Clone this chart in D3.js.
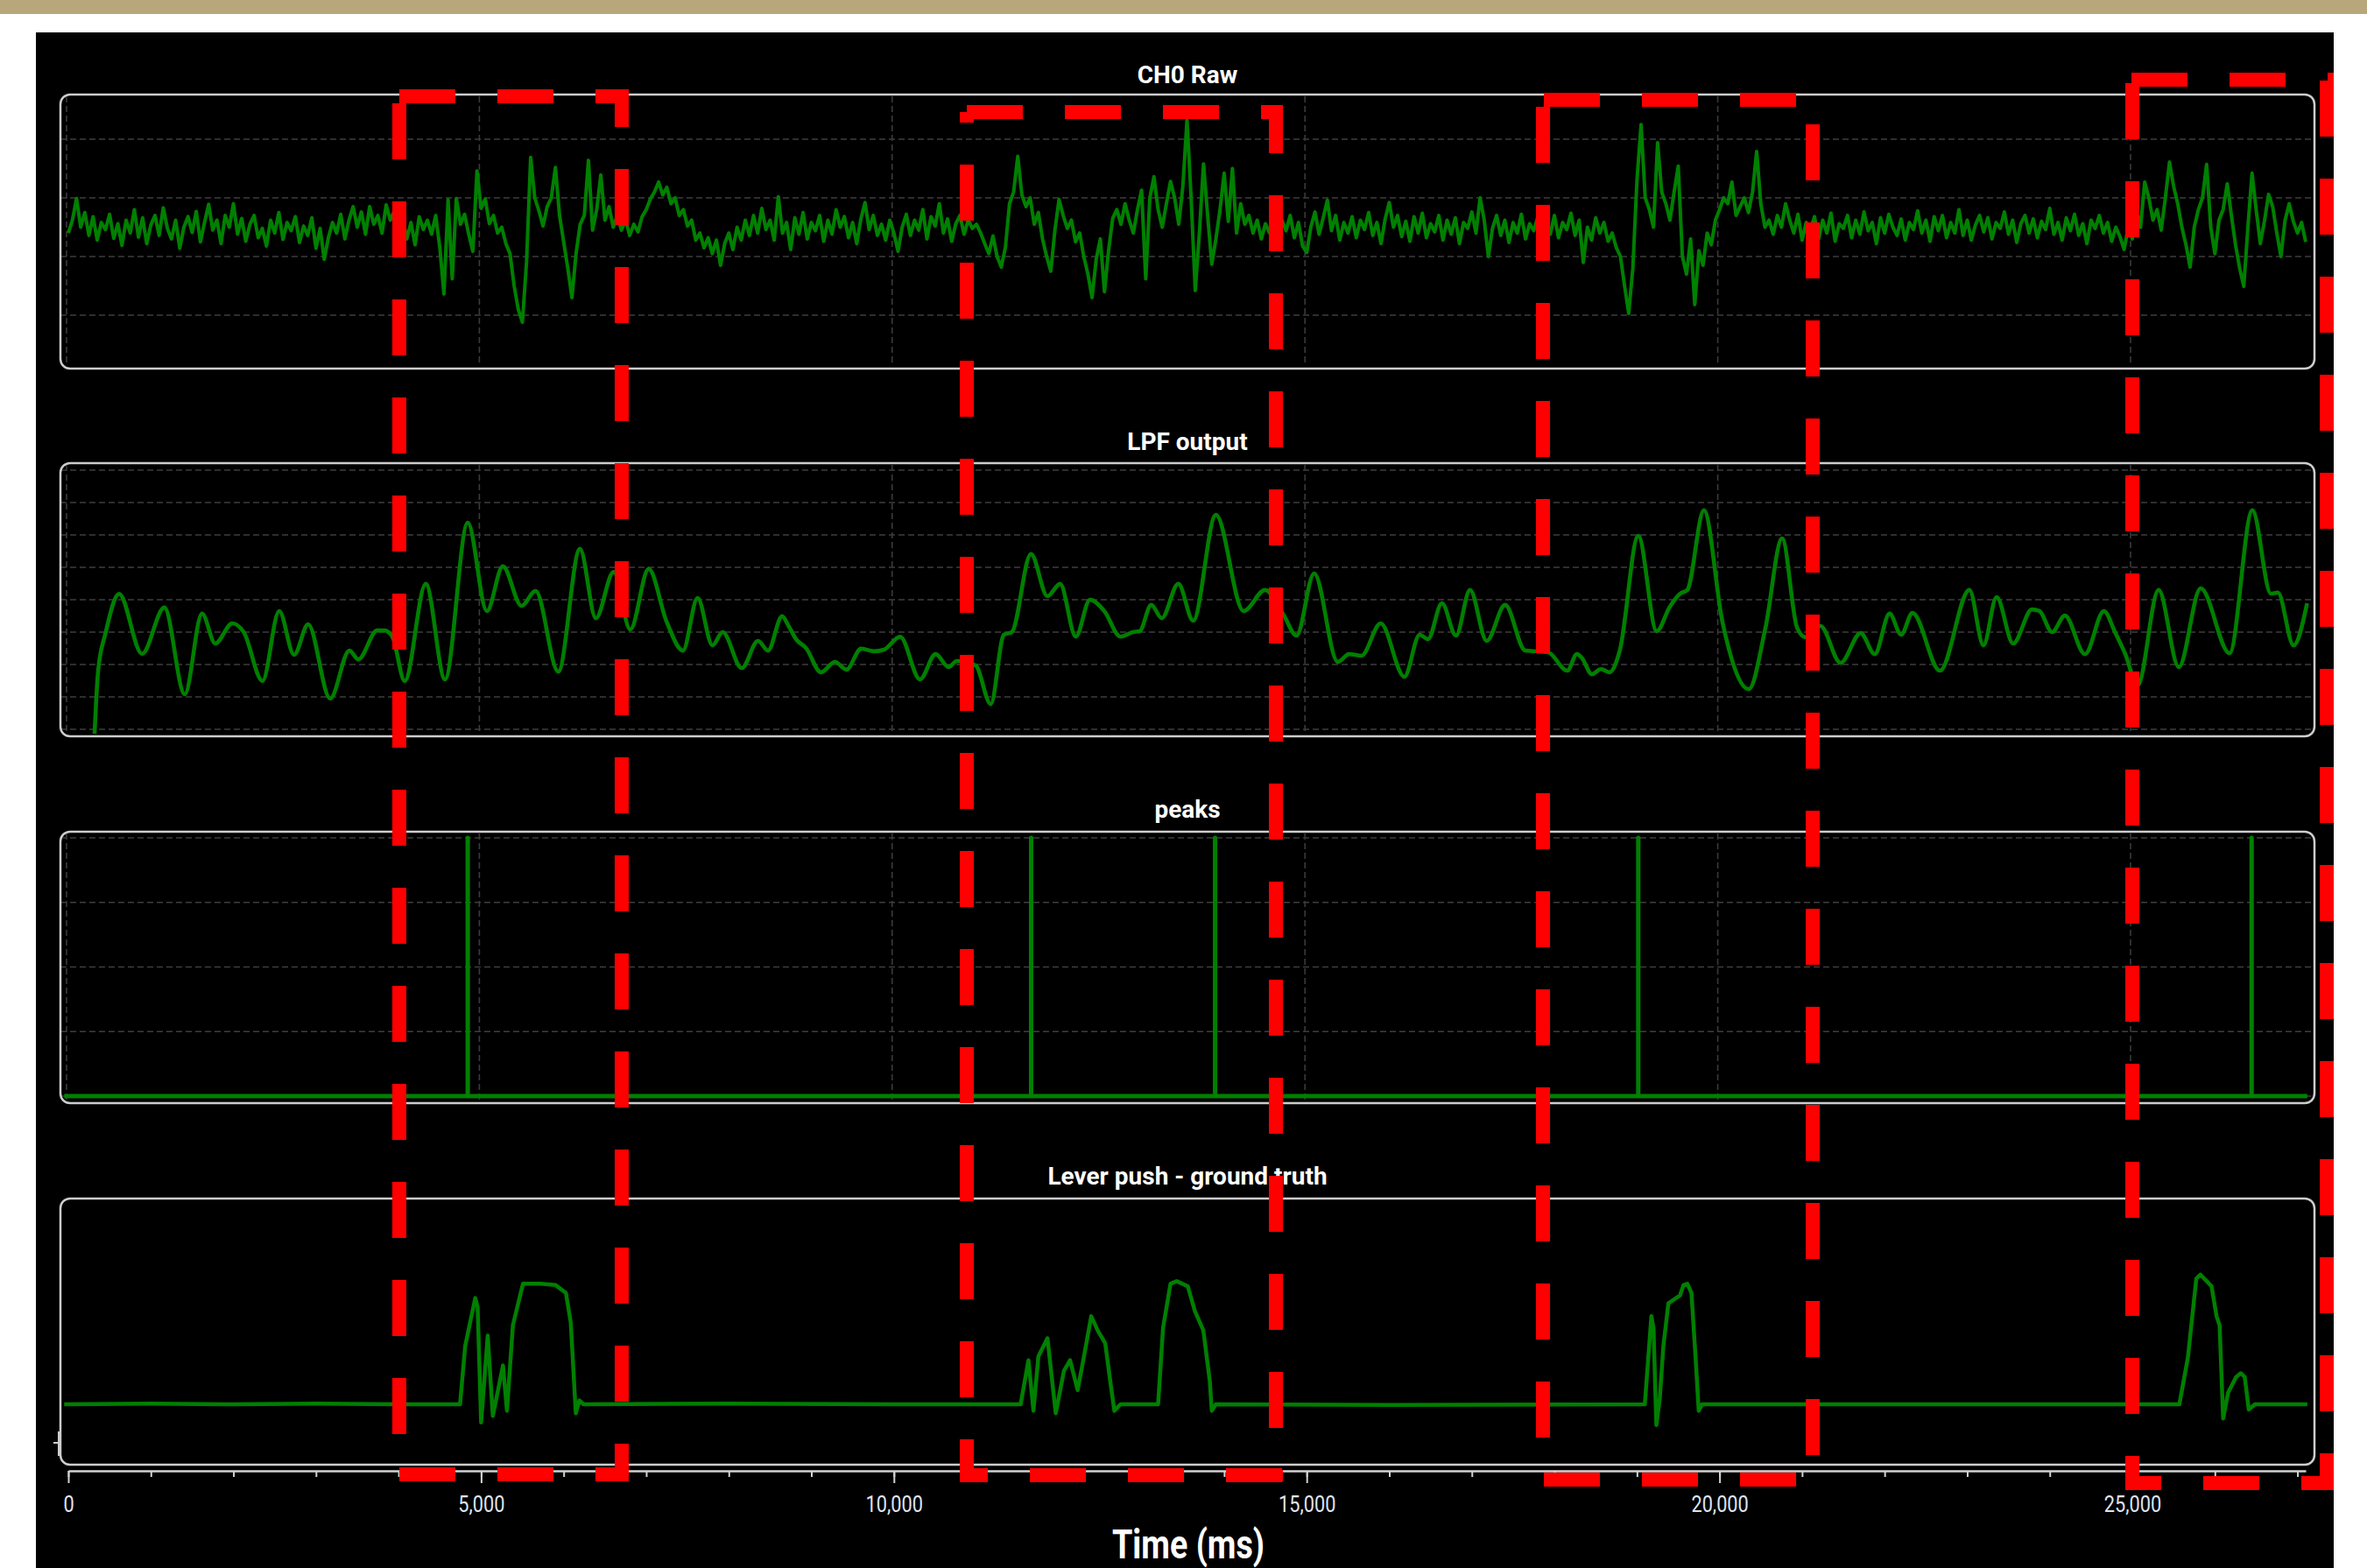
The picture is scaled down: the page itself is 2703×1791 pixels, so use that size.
<!DOCTYPE html>
<html><head><meta charset="utf-8">
<script src="https://cdn.jsdelivr.net/npm/d3@7"></script>
<style>html,body{margin:0;padding:0;background:#fff;} svg{display:block;}</style>
</head><body>
<svg id="chart" width="2703" height="1791"></svg>
<script>
// ---------------- DATA ----------------
const panelTitles = ["CH0 Raw", "LPF output", "peaks", "Lever push - ground truth"];
const xAxisTitle = "Time (ms)";
const xTickValues = [0, 5000, 10000, 15000, 20000, 25000];

// CH0 raw, one sample every 50 ms starting at 0 ms (ADC units)
const rawStepMs = 50;
const rawValues = [
240,262,299,250,275,236,268,228,258,246,
272,231,256,219,262,240,280,233,266,222,
254,270,236,283,248,230,262,214,250,268,
241,277,225,258,289,245,262,222,270,250,
290,238,265,226,255,270,232,248,218,262,
240,275,229,258,244,268,224,252,236,266,
214,248,195,232,258,240,272,230,262,285,
250,276,238,285,255,270,240,288,262,278,
240,265,230,258,220,268,246,
262,238,270,215,136,297,162,299,255,272,
238,209,346,282,298,256,270,240,250,222,
205,150,110,88,190,369,300,278,252,285,
300,352,270,225,180,130,205,255,270,364,
245,280,339,262,285,250,270,245,262,236,
255,242,268,280,
298,310,327,305,318,290,300,270,280,252,
262,228,240,215,232,205,228,185,222,240,
212,250,228,262,236,270,240,282,246,262,
228,302,240,258,212,266,238,275,230,258,
244,270,226,262,238,280,250,268,232,258,
222,264,292,246,270,236,255,228,262,240,
209,250,272,236,262,245,280,230,268,252,
290,240,264,226,256,270,238,262,248,
255,240,222,205,235,200,182,215,290,310,
371,305,285,300,255,275,230,200,175,245,
297,270,248,262,225,240,200,170,130,195,
230,140,210,265,280,255,290,262,240,280,
313,162,300,336,280,250,290,328,300,255,
320,433,300,142,240,358,270,187,230,280,
342,260,350,240,290,255,270,240,262,230,
256,
240,272,228,262,244,270,232,258,218,207,
250,276,238,266,296,244,270,228,258,240,
268,232,262,246,275,236,258,222,264,292,
250,270,234,260,226,268,240,274,232,256,
242,270,228,262,238,266,222,258,248,276,
240,300,262,200,248,270,236,262,224,258,
240,272,230,256,244,268,226,262,238,270,
232,258,246,274,236,262,190,250,228,266,
240,258,226,
240,215,200,150,103,180,330,425,300,280,
250,394,310,290,262,310,354,200,170,230,
118,210,185,240,220,262,280,300,290,327,
270,285,300,275,310,379,290,250,262,
238,270,250,290,262,240,272,228,258,244,
268,230,262,240,274,226,256,248,270,232,
262,238,276,244,258,222,266,240,272,250,
236,264,228,258,246,278,240,262,226,268,
244,270,232,258,240,280,236,262,228,254,
270,242,266,230,258,248,276,238,262,224,
256,270,240,264,232,260,246,282,238,258,
228,266,244,272,236,256,222,262,248,270,
240,258,226,250,234,212,248,
230,280,250,327,300,262,280,245,300,361,
320,290,250,220,182,250,280,300,357,250,
205,262,280,324,270,220,180,149,250,342,
280,222,260,306,285,240,200,262,290,260,
240,258,225
];

// LPF output (ms, value)
const lpfTimes = [318,361,451,615,893,1164,1410,1620,1780,1987,2125,2352,2554,2735,2905,3172,3405,3513,3741,3830,3925,4075,4330,4563,4838,5070,5263,5490,5660,5935,6197,6390,6605,6807,7030,7247,7444,7622,7803,7925,8157,8354,8475,8646,8722,8815,8935,9117,9285,9425,9603,9762,9881,10075,10316,10505,10662,10762,10990,11173,11332,11428,11660,11860,12013,12203,12375,12548,12745,12894,12977,13117,13244,13445,13625,13900,14235,14496,14718,14877,15090,15376,15514,15662,15896,16183,16368,16468,16638,16808,16978,17180,17403,17646,17922,18156,18273,18336,18453,18565,18666,18792,19016,19239,19397,19525,19610,19811,20035,20355,20557,20758,20939,21042,21222,21466,21710,21880,22060,22200,22337,22670,23027,23197,23356,23557,23785,23875,24029,24183,24427,24656,24790,24915,25064,25318,25563,25828,26178,26454,26678,26763,26953,27117];
const lpfValues = [-0.14,1.8,2.97,4.18,2.33,3.76,1.08,3.57,2.65,3.27,3.0,1.49,3.65,2.3,3.24,0.95,2.43,2.16,3.05,3.05,2.86,1.49,4.49,1.54,6.38,3.65,5.03,3.81,4.27,1.78,5.57,3.43,4.86,3.08,4.95,3.32,2.43,4.05,2.59,3.0,1.89,2.73,2.43,3.49,3.2,2.78,2.51,1.76,2.08,1.84,2.49,2.41,2.46,2.86,1.54,2.32,1.92,2.11,1.97,0.78,2.92,3.0,5.41,4.11,4.49,2.86,4.0,3.65,2.86,3.0,3.03,3.84,3.43,4.49,3.35,6.62,3.65,4.3,3.54,2.89,4.81,2.08,2.32,2.27,3.27,1.62,2.92,2.78,3.89,2.89,4.3,2.73,3.84,2.43,2.38,1.81,2.32,2.19,1.7,1.86,1.76,2.43,5.97,3.03,3.78,4.19,4.3,6.76,3.32,1.24,3.14,5.89,3.14,2.84,3.19,2.05,2.97,2.32,3.57,2.92,3.59,1.81,4.3,2.59,4.08,2.65,3.70,3.65,3.0,3.51,2.32,3.65,3.0,2.32,1.35,4.3,1.92,4.35,2.35,6.76,4.19,4.22,2.59,3.89];

// detected peaks (ms)
const peakTimes = [4838, 11662, 13890, 19016, 26445];

// lever push ground truth (ms, value)
const leverTimes = [-50,1000,2000,3000,4000,4745,4807,4929,4958,5000,5080,5142,5265,5313,5385,5507,5720,5902,6027,6086,6147,6190,6240,8000,10000,11535,11630,11690,11750,11860,11960,12060,12134,12225,12288,12390,12468,12560,12620,12670,12745,13200,13260,13350,13425,13560,13645,13748,13826,13850,13900,16000,19095,19175,19200,19235,19277,19320,19381,19521,19563,19610,19660,19710,19748,19790,22000,25570,25673,25775,25825,25886,25960,26020,26057,26100,26160,26256,26313,26362,26410,26485,27120];
const leverValues = [0,0.005,0,0.005,0,0,0.45,0.82,0.75,-0.14,0.53,-0.09,0.30,-0.05,0.61,0.93,0.93,0.92,0.86,0.63,-0.07,0.03,0,0.005,0,0,0.34,-0.05,0.37,0.51,-0.07,0.26,0.34,0.11,0.32,0.68,0.57,0.47,0.18,-0.05,0,0,0.59,0.93,0.95,0.91,0.72,0.57,0.18,-0.05,0,-0.005,0,0.68,0.59,-0.16,0.05,0.45,0.78,0.84,0.92,0.93,0.86,0.36,-0.05,0,0,0,0.36,0.97,1.0,0.96,0.91,0.68,0.61,-0.11,0.09,0.21,0.24,0.21,-0.04,0,0];

// gridline values
const rawGridTicks = [100, 200, 300, 400];
const lpfGridTicks = [0, 1, 2, 3, 4, 5, 6, 7, 8];
const peakGridTicks = [0, 0.25, 0.5, 0.75, 1];

// highlighted time windows (ms)
const highlightWindows = [[4009, 6703], [10883, 14627], [17862, 21129], [25000, 27355]];

// ---------------- LAYOUT ----------------
const svg = d3.select("#chart");
const GREEN = "#008000";
const FONT = "Roboto, 'DejaVu Sans', sans-serif";
const PX0 = 69, PX1 = 2643;

svg.append("rect").attr("x",0).attr("y",0).attr("width",2703).attr("height",1791).attr("fill","#ffffff");
svg.append("rect").attr("x",0).attr("y",0).attr("width",2703).attr("height",16).attr("fill","#b8a77a");
svg.append("rect").attr("x",41).attr("y",37).attr("width",2624).attr("height",1754).attr("fill","#000000");

const x = d3.scaleLinear().domain([0, 27100]).range([78, 2633]);

const yRaw = d3.scaleLinear().domain([0, 500]).range([427, 92]);
const yLpf = d3.scaleLinear().domain([0, 8]).range([833, 537]);
const yPeak = d3.scaleLinear().domain([0, 1]).range([1252, 957]);
const yLever = d3.scaleLinear().domain([0, 1]).range([1604, 1456]);

const rawData = rawValues.map((v, i) => [i * rawStepMs, v]);
const lpfData = lpfTimes.map((t, i) => [t, lpfValues[i]]);
const peakData = [[-50, 0]];
peakTimes.forEach(t => { peakData.push([t, 0], [t, 1], [t, 0]); });
peakData.push([27120, 0]);
const leverData = leverTimes.map((t, i) => [t, leverValues[i]]);

const panels = [
  {title: panelTitles[0], y0: 108, y1: 421, titleY: 95, y: yRaw, data: rawData, grid: rawGridTicks, vgrid: true, width: 4, curve: d3.curveLinear},
  {title: panelTitles[1], y0: 529, y1: 841, titleY: 514, y: yLpf, data: lpfData, grid: lpfGridTicks, vgrid: true, width: 4.6, curve: d3.curveMonotoneX},
  {title: panelTitles[2], y0: 950, y1: 1260, titleY: 934, y: yPeak, data: peakData, grid: peakGridTicks, vgrid: true, width: 5, curve: d3.curveLinear},
  {title: panelTitles[3], y0: 1369, y1: 1673, titleY: 1353, y: yLever, data: leverData, grid: [], vgrid: false, width: 4.5, curve: d3.curveLinear}
];

const defs = svg.append("defs");
panels.forEach((p, i) => {
  defs.append("clipPath").attr("id", "clip" + i)
    .append("rect").attr("x", PX0).attr("y", p.y0).attr("width", PX1 - PX0).attr("height", p.y1 - p.y0).attr("rx", 11);

  const g = svg.append("g");
  const inner = g.append("g").attr("clip-path", `url(#clip${i})`);

  inner.selectAll(".hg").data(p.grid).join("line")
    .attr("x1", PX0).attr("x2", PX1)
    .attr("y1", d => p.y(d)).attr("y2", d => p.y(d))
    .attr("stroke", "#3e3e3e").attr("stroke-width", 1.6).attr("stroke-dasharray", "7 4");
  if (p.vgrid) {
    inner.selectAll(".vg").data(xTickValues).join("line")
      .attr("x1", d => x(d) - 2).attr("x2", d => x(d) - 2)
      .attr("y1", p.y0 + 2).attr("y2", p.y1 - 4)
      .attr("stroke", "#3a3a3a").attr("stroke-width", 1.6).attr("stroke-dasharray", "7 4");
  }
  const line = d3.line().x(d => x(d[0])).y(d => p.y(d[1])).curve(p.curve);
  inner.append("path").datum(p.data).attr("d", line)
    .attr("fill", "none").attr("stroke", GREEN).attr("stroke-width", p.width)
    .attr("stroke-linejoin", "round");

  g.append("rect").attr("x", PX0).attr("y", p.y0).attr("width", PX1 - PX0).attr("height", p.y1 - p.y0)
    .attr("rx", 11).attr("fill", "none").attr("stroke", "#cdcdcd").attr("stroke-width", 2.5);

  svg.append("text").attr("x", 1356).attr("y", p.titleY).attr("text-anchor", "middle")
    .attr("font-family", FONT).attr("font-weight", 700).attr("font-size", 28)
    .attr("fill", "#ffffff").text(p.title);
});

svg.append("line").attr("x1", 67).attr("x2", 67).attr("y1", 1635).attr("y2", 1663).attr("stroke", "#cdcdcd").attr("stroke-width", 2);
svg.append("line").attr("x1", 61).attr("x2", 67).attr("y1", 1648).attr("y2", 1648).attr("stroke", "#cdcdcd").attr("stroke-width", 2);

// ---------------- X AXIS ----------------
const axisY = 1680;
const minorTicks = d3.range(0, 27001, 1000);
const gMinor = svg.append("g").attr("transform", `translate(0,${axisY})`)
  .call(d3.axisBottom(x).tickValues(minorTicks).tickSize(7).tickSizeOuter(0).tickFormat(""));
gMinor.select(".domain").remove();
const gAxis = svg.append("g").attr("transform", `translate(0,${axisY})`)
  .call(d3.axisBottom(x).tickValues(xTickValues).tickSize(14).tickSizeOuter(0).tickFormat(d3.format(",")));
[gMinor, gAxis].forEach(g => {
  g.selectAll("line").attr("stroke", "#d2d2d2").attr("stroke-width", 2);
  g.select(".domain").attr("stroke", "#d2d2d2").attr("stroke-width", 2.5);
});
gAxis.selectAll("text")
  .attr("y", 47).attr("dy", 0)
  .attr("font-family", FONT).attr("font-size", 25)
  .attr("fill", "#dfe4f0")
  .attr("transform", "scale(0.87,1)");

svg.append("text").attr("transform", "translate(1357,1780) scale(0.82,1)")
  .attr("text-anchor", "middle").attr("font-family", FONT).attr("font-weight", 700)
  .attr("font-size", 46).attr("fill", "#ffffff").text(xAxisTitle);

// ---------------- HIGHLIGHT WINDOWS ----------------
const DASH = 64, GAP = 48, PERIOD = DASH + GAP;
const highlightLayout = [
  {top:110, bottom:1684, topFromDx:0, topToDx:8, botFromDx:0, botToDx:8, leftFrom:118, leftTo:1684, rightFrom:102, rightTo:1692, phTop:0, phBot:0, phLeft:118, phRight:81},
  {top:128, bottom:1685, topFromDx:0, topToDx:8, botFromDx:-8, botToDx:8, leftFrom:128, leftTo:1692, rightFrom:121, rightTo:1692, phTop:0, phBot:-40, phLeft:76, phRight:111},
  {top:114, bottom:1690, topFromDx:0, topToDx:8, botFromDx:0, botToDx:8, leftFrom:122, leftTo:1690, rightFrom:142, rightTo:1662, phTop:1, phBot:1, phLeft:122, phRight:142},
  {top:91, bottom:1694, topFromDx:-1, topToDx:8, botFromDx:-8, botToDx:8, leftFrom:95, leftTo:1702, rightFrom:92, rightTo:1702, phTop:-1, phBot:-31, phLeft:95, phRight:92}
];
const gH = svg.append("g");
function side(xa, ya, xb, yb, phase) {
  const s = (ya === yb) ? xa : ya;
  const off = (((s - phase) % PERIOD) + PERIOD) % PERIOD;
  gH.append("line").attr("x1", xa).attr("y1", ya).attr("x2", xb).attr("y2", yb)
    .attr("stroke", "#ff0000").attr("stroke-width", 16)
    .attr("stroke-dasharray", `${DASH} ${GAP}`).attr("stroke-dashoffset", off);
}
highlightWindows.forEach((w, i) => {
  const L = highlightLayout[i];
  const xl = x(w[0]), xr = x(w[1]);
  side(xl + L.topFromDx, L.top, xr + L.topToDx, L.top, xl + L.phTop);
  side(xl + L.botFromDx, L.bottom, xr + L.botToDx, L.bottom, xl + L.phBot);
  side(xl, L.leftFrom, xl, L.leftTo, L.phLeft);
  side(xr, L.rightFrom, xr, L.rightTo, L.phRight);
});
</script>
</body></html>
